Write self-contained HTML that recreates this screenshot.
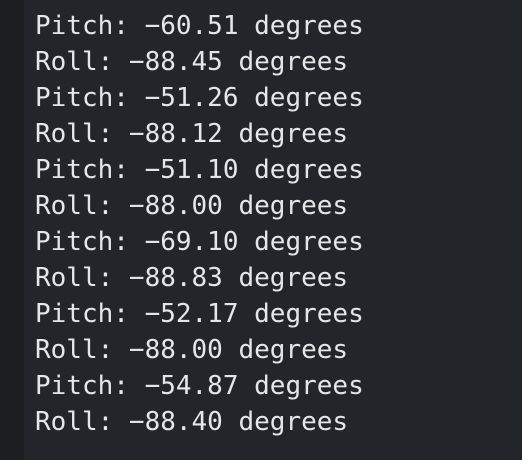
<!DOCTYPE html>
<html><head><meta charset="utf-8"><style>
html,body{margin:0;padding:0;width:522px;height:460px;overflow:hidden;background:#22262a;}
#gutter{position:absolute;left:0;top:0;width:24px;height:460px;background:#1c1f22;}
#out{position:absolute;left:35px;top:8px;font-family:"DejaVu Sans Mono","Liberation Mono",monospace;font-size:26px;line-height:36px;color:#e4e6e8;white-space:pre;}
</style></head><body>
<div id="gutter"></div>
<div id="out"><div>Pitch: −60.51 degrees</div><div>Roll: −88.45 degrees</div><div>Pitch: −51.26 degrees</div><div>Roll: −88.12 degrees</div><div>Pitch: −51.10 degrees</div><div>Roll: −88.00 degrees</div><div>Pitch: −69.10 degrees</div><div>Roll: −88.83 degrees</div><div>Pitch: −52.17 degrees</div><div>Roll: −88.00 degrees</div><div>Pitch: −54.87 degrees</div><div>Roll: −88.40 degrees</div></div>
</body></html>
